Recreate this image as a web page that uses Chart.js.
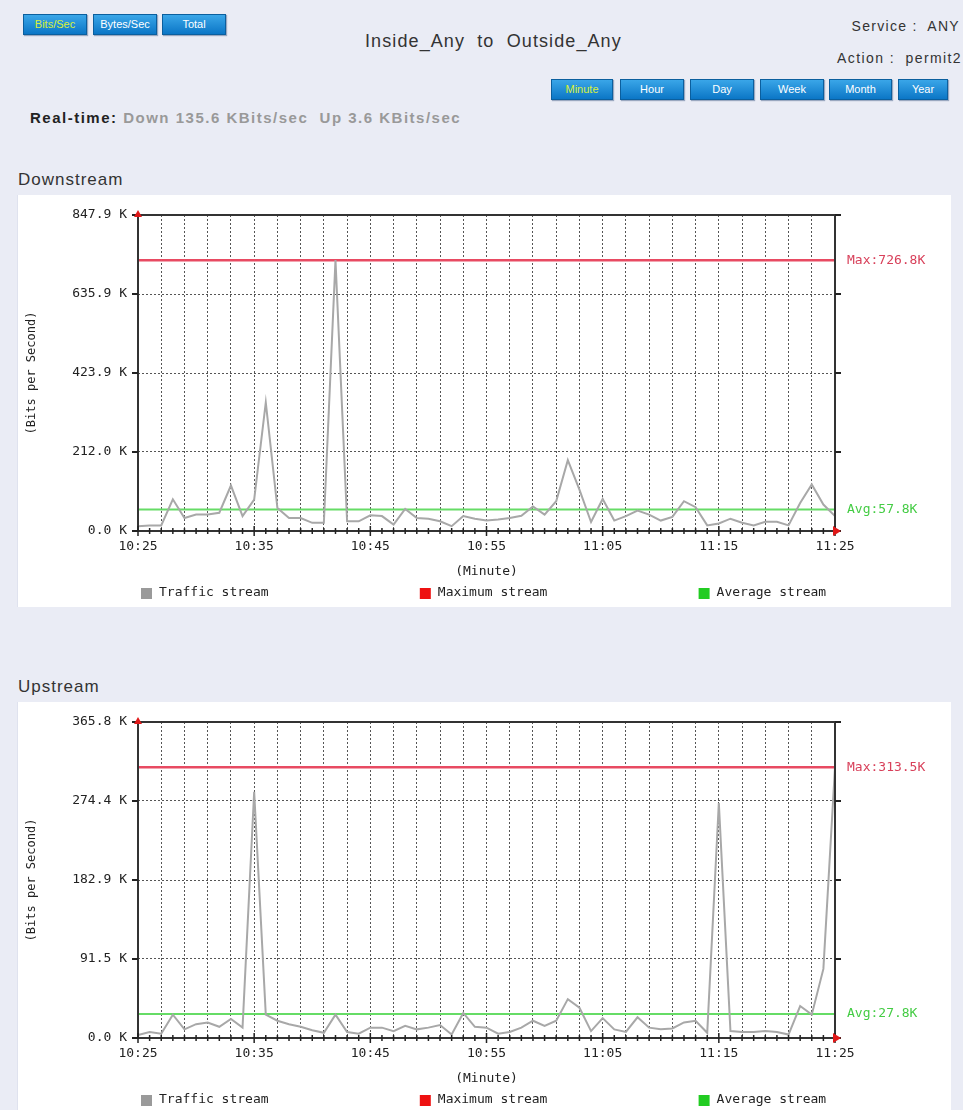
<!DOCTYPE html>
<html lang="en">
<head>
<meta charset="UTF-8">
<title>Inside_Any to Outside_Any</title>
<script src="https://cdn.jsdelivr.net/npm/chart.js"></script>
<style>
    body {
        margin: 0;
        width: 963px;
        height: 1110px;
        position: relative;
        overflow: hidden;
        background: #eaecf5;
        font-family: Arial, "Liberation Sans", sans-serif;
        color: #333;
    }
    .btn {
        position: absolute;
        height: 19px;
        line-height: 19px;
        text-align: center;
        font-size: 11px;
        color: #fff;
        background: linear-gradient(#3aa6e8, #0b76c6);
        border: 1px solid #0b5f9e;
        box-shadow: 1px 1px 1px #9aa8c0;
    }
    .btn.on { color: #d9f03a; }
    .txt { position: absolute; white-space: nowrap; }
    .panel {
        position: absolute;
        left: 17px;
        width: 933px;
        height: 412px;
        background: #fff;
        border-left: 1px solid #dfe2ee;
    }
</style>
</head>
<body>
    <div class="btn on" style="left:23px;top:14px;width:62px">Bits/Sec</div>
    <div class="btn" style="left:93px;top:14px;width:62px">Bytes/Sec</div>
    <div class="btn" style="left:162px;top:14px;width:62px">Total</div>

    <div class="txt" style="left:365px;top:31px;font-size:18px;letter-spacing:1.1px">Inside_Any&nbsp; to&nbsp; Outside_Any</div>
    <div class="txt" style="right:3px;top:18px;font-size:14px;letter-spacing:1.3px">Service :&nbsp; ANY</div>
    <div class="txt" style="right:1px;top:50px;font-size:14px;letter-spacing:1.4px">Action :&nbsp; permit2</div>

    <div class="btn on" style="left:551px;top:79px;width:60px">Minute</div>
    <div class="btn" style="left:620px;top:79px;width:62px">Hour</div>
    <div class="btn" style="left:690px;top:79px;width:62px">Day</div>
    <div class="btn" style="left:760px;top:79px;width:62px">Week</div>
    <div class="btn" style="left:829px;top:79px;width:61px">Month</div>
    <div class="btn" style="left:898px;top:79px;width:48px">Year</div>

    <div class="txt" style="left:30px;top:109px;font-size:15px;font-weight:bold;letter-spacing:1.5px"><span style="color:#222">Real-time:</span><span style="color:#999"> Down 135.6 KBits/sec&nbsp; Up 3.6 KBits/sec</span></div>

    <div class="txt" style="left:18px;top:170px;font-size:17px;letter-spacing:1px">Downstream</div>
    <div class="panel" style="top:195px"><canvas id="downChart" width="933" height="412"></canvas></div>

    <div class="txt" style="left:18px;top:677px;font-size:17px;letter-spacing:1px">Upstream</div>
    <div class="panel" style="top:702px"><canvas id="upChart" width="933" height="412"></canvas></div>

<script>
    // x axis: one point per minute, labels every 10 minutes
    const timeLabels = ['10:25', '10:35', '10:45', '10:55', '11:05', '11:15', '11:25'];
    const legendLabels = ['Traffic stream', 'Maximum stream', 'Average stream'];

    // downstream (K bits/s)
    const downTraffic = [13, 15, 15, 85, 35, 44, 44, 49, 122, 40, 84,
        345, 62, 35, 35, 22, 22, 726.8, 26, 26, 42,
        40, 17, 59, 35, 33, 26, 13, 40, 33, 28,
        31, 35, 41, 66, 44, 80, 190, 111, 24, 86,
        28, 40, 55, 44, 28, 38, 80, 64, 15, 20,
        33, 22, 15, 25, 25, 15, 75, 125, 71, 40];
    const downTicks = [0, 212.0, 423.9, 635.9, 847.9];
    const downMax = 726.8;
    const downAvg = 57.8;

    // upstream (K bits/s)
    const upTraffic = [3.5, 7, 5, 27, 10, 16, 18, 13, 22, 12,
        285, 27, 20, 16, 13, 9, 6, 27, 7, 5,
        12, 12, 8, 14, 10, 12, 15, 4, 29, 13,
        12, 5, 7, 12, 20, 14, 20, 45, 35, 8,
        23, 10, 7, 24, 12, 10, 11, 18, 20, 6,
        272, 8, 7, 7, 8, 7, 4, 37, 27, 80, 313.5];
    const upTicks = [0, 91.5, 182.9, 274.4, 365.8];
    const upMax = 313.5;
    const upAvg = 27.8;

    const MONO = '"DejaVu Sans Mono", "Liberation Mono", monospace';
    const COLORS = { traffic: '#a8a8a8', max: '#e84a62', avg: '#66dc66' };
    const LEGEND_BOX = ['#9a9a9a', '#ee1111', '#22cc22'];

    // frame, tick marks, axis arrows, max/avg captions and legend
    const decor = {
        id: 'decor',
        afterDraw(chart, args, opts) {
            const { ctx, chartArea: a, scales: { x, y } } = chart;
            ctx.save();
            ctx.strokeStyle = '#333';
            ctx.lineWidth = 2;
            ctx.strokeRect(a.left, a.top, a.right - a.left, a.bottom - a.top);

            ctx.strokeStyle = '#222';
            y.ticks.forEach(t => {
                const py = y.getPixelForValue(t.value);
                ctx.beginPath();
                ctx.moveTo(a.left - 6, py); ctx.lineTo(a.left, py);
                ctx.moveTo(a.right, py); ctx.lineTo(a.right + 6, py);
                ctx.stroke();
            });
            ctx.lineWidth = 1.5;
            for (let m = 0; m <= 60; m++) {
                const px = x.getPixelForValue(m);
                const len = m % 10 === 0 ? 5 : 3;
                ctx.beginPath();
                ctx.moveTo(px, a.bottom - len); ctx.lineTo(px, a.bottom + len);
                ctx.stroke();
            }

            // red arrow heads on the axes
            ctx.fillStyle = '#e01818';
            ctx.beginPath();
            ctx.moveTo(a.left, a.top - 5); ctx.lineTo(a.left + 4, a.top + 2); ctx.lineTo(a.left - 4, a.top + 2);
            ctx.fill();
            ctx.beginPath();
            ctx.moveTo(a.right + 6, a.bottom); ctx.lineTo(a.right - 2, a.bottom - 5); ctx.lineTo(a.right - 2, a.bottom + 5);
            ctx.fill();

            ctx.font = '13px ' + MONO;
            ctx.textBaseline = 'middle';
            ctx.textAlign = 'left';
            ctx.fillStyle = '#d8405a';
            ctx.fillText('Max:' + opts.max.toFixed(1) + 'K', a.right + 12, y.getPixelForValue(opts.max));
            ctx.fillStyle = '#44cc44';
            ctx.fillText('Avg:' + opts.avg.toFixed(1) + 'K', a.right + 12, y.getPixelForValue(opts.avg));

            const w = a.right - a.left;
            const ly = a.bottom + 62;
            legendLabels.forEach((label, i) => {
                const lx = a.left + 3 + i * 0.4 * w;
                ctx.fillStyle = LEGEND_BOX[i];
                ctx.fillRect(lx, ly - 5, 11, 11);
                ctx.fillStyle = '#222';
                ctx.fillText(label, lx + 18, ly);
            });
            ctx.restore();
        }
    };

    function makeChart(id, traffic, ticks, maxVal, avgVal) {
        const last = traffic.length - 1;
        return new Chart(document.getElementById(id), {
            type: 'line',
            data: {
                datasets: [{
                    label: legendLabels[0],
                    data: traffic.map((v, i) => ({ x: i, y: v })),
                    borderColor: COLORS.traffic,
                    borderWidth: 2
                }, {
                    label: legendLabels[1],
                    data: [{ x: 0, y: maxVal }, { x: last, y: maxVal }],
                    borderColor: COLORS.max,
                    borderWidth: 2.5
                }, {
                    label: legendLabels[2],
                    data: [{ x: 0, y: avgVal }, { x: last, y: avgVal }],
                    borderColor: COLORS.avg,
                    borderWidth: 2
                }]
            },
            options: {
                responsive: false,
                animation: false,
                elements: { point: { radius: 0 }, line: { tension: 0 } },
                layout: { padding: { top: 20, right: 116, left: 0, bottom: 0 } },
                plugins: {
                    legend: { display: false },
                    tooltip: { enabled: false },
                    decor: { max: maxVal, avg: avgVal }
                },
                scales: {
                    x: {
                        type: 'linear',
                        min: 0,
                        max: last,
                        afterFit: s => { s.height = 76; },
                        ticks: {
                            stepSize: 2,
                            autoSkip: false,
                            maxRotation: 0,
                            padding: 8,
                            color: '#222',
                            font: { family: MONO, size: 13 },
                            callback: v => v % 10 === 0 ? timeLabels[v / 10] : ''
                        },
                        grid: { color: '#555', lineWidth: 1, drawTicks: false },
                        border: { display: false, dash: [2, 2] },
                        title: {
                            display: true,
                            text: '(Minute)',
                            color: '#222',
                            font: { family: MONO, size: 13 },
                            padding: { top: 0, bottom: 28 }
                        }
                    },
                    y: {
                        min: 0,
                        max: ticks[ticks.length - 1],
                        afterBuildTicks: s => { s.ticks = ticks.map(v => ({ value: v })); },
                        afterFit: s => { s.width = 120; },
                        ticks: {
                            padding: 11,
                            color: '#222',
                            font: { family: MONO, size: 13 },
                            callback: v => v.toFixed(1) + ' K'
                        },
                        grid: { color: '#555', lineWidth: 1, drawTicks: false },
                        border: { display: false, dash: [2, 2] },
                        title: {
                            display: true,
                            text: '(Bits per Second)',
                            color: '#222',
                            font: { family: MONO, size: 12 },
                            padding: { top: 7, bottom: 0 }
                        }
                    }
                }
            },
            plugins: [decor]
        });
    }

    makeChart('downChart', downTraffic, downTicks, downMax, downAvg);
    makeChart('upChart', upTraffic, upTicks, upMax, upAvg);
</script>
</body>
</html>
